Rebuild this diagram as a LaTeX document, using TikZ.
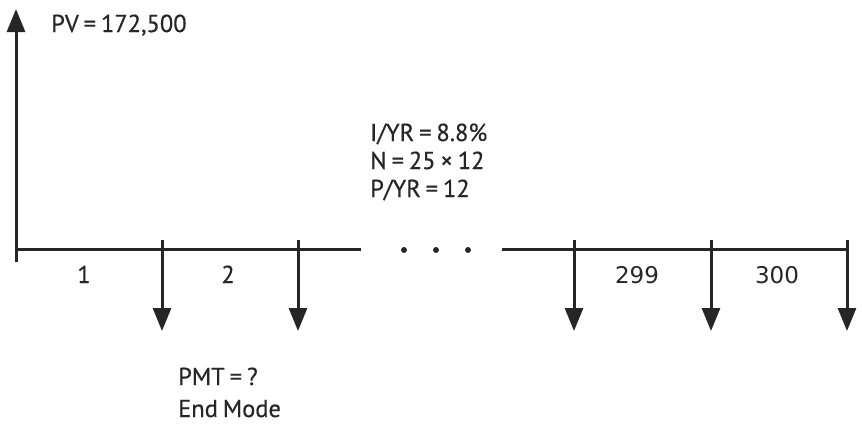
\documentclass[tikz,border=0pt]{standalone}
\usepackage{fontspec}
\setmainfont{PT Sans}[FakeBold=0.5, WordSpace=0.75]
\newfontfamily\numfont{DejaVu Sans}
\usetikzlibrary{arrows.meta}
\tikzstyle{timeline} = [line width=3pt, draw=black!85]
\tikzstyle{arrow} = [line width=3pt, draw=black!85, -{Triangle[length=23pt,width=18pt]}]
\tikzstyle{txt} = [anchor=base west, inner sep=0pt, text=black!85, font=\fontsize{24.5}{28}\selectfont]
\tikzstyle{period} = [anchor=base, inner sep=0pt, text=black!85, font=\fontsize{24.5}{28}\selectfont]
\tikzstyle{dot} = [circle, fill=black!85, inner sep=0pt, minimum size=6pt]

\begin{document}
\begin{tikzpicture}[x=1pt, y=-1pt]
        \useasboundingbox (0,0) rectangle (862,423);

        % time line points
        \coordinate (t0) at (16,249);
        \coordinate (t1) at (162,249);
        \coordinate (t2) at (298,249);
        \coordinate (t3) at (361,249);
        \coordinate (t4) at (502,249);
        \coordinate (t5) at (574,249);
        \coordinate (t6) at (711,249);
        \coordinate (t7) at (847,249);

        % tops of ticks and ends of arrows
        \coordinate (base0) at (16,262);
        \coordinate (pv) at (16,9);
        \coordinate (a1) at (162,240);
        \coordinate (a2) at (298,240);
        \coordinate (a5) at (574,240);
        \coordinate (a6) at (711,240);
        \coordinate (a7) at (847,240);
        \coordinate (p1) at (162,331);
        \coordinate (p2) at (298,331);
        \coordinate (p5) at (574,331);
        \coordinate (p6) at (711,331);
        \coordinate (p7) at (847,331);

        \node (dot1) [dot] at (404,250) {};
        \node (dot2) [dot] at (436,250) {};
        \node (dot3) [dot] at (468,250) {};

        \node (pvtext) [txt] at (51,32) {PV = 172,500};
        \node (rate) [txt] at (370,141) {I/YR = 8.8\%};
        \node (nper) [txt] at (370,169) {N = 25 × 12};
        \node (pyr) [txt] at (370,197) {P/YR = 12};
        \node (pmt) [txt] at (178,385) {PMT = ?};
        \node (mode) [txt] at (178,417) {End Mode};

        \node (n1) [period] at (84,283) {1};
        \node (n2) [period] at (228,283) {2};
        \node (n299) [period, font=\numfont\fontsize{23}{27}\selectfont] at (637,283) {299};
        \node (n300) [period, font=\numfont\fontsize{23}{27}\selectfont] at (777,283) {300};

        \draw [timeline] (t0) -- (t3);
        \draw [timeline] (t4) -- (t7);
        \draw [arrow] (base0) -- (pv);

        \draw [arrow] (a1) -- (p1);
        \draw [arrow] (a2) -- (p2);
        \draw [arrow] (a5) -- (p5);
        \draw [arrow] (a6) -- (p6);
        \draw [arrow] (a7) -- (p7);
    \end{tikzpicture}
\end{document}
